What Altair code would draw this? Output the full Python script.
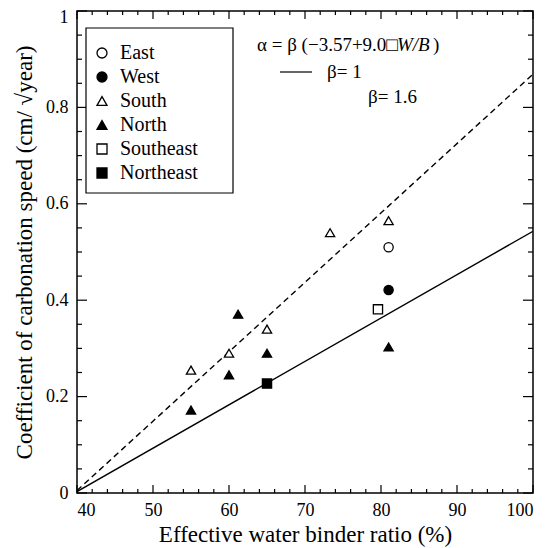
import altair as alt
import pandas as pd

# ---- data ----
directions = ["East", "West", "South", "North", "Southeast", "Northeast"]
pt_dir = ["East", "West",
          "South", "South", "South", "South", "South",
          "North", "North", "North", "North", "North",
          "Southeast", "Northeast"]
pt_x = [81, 81,
        55, 60, 65, 73.3, 81,
        55, 60, 61.2, 65, 81,
        79.6, 65]
pt_y = [0.51, 0.421,
        0.255, 0.29, 0.34, 0.54, 0.565,
        0.172, 0.245, 0.371, 0.29, 0.303,
        0.381, 0.227]

line_x = [40, 100]
line_b1 = [0.003, 0.543]
line_b16 = [0.005, 0.869]

x_major = [40, 50, 60, 70, 80, 90, 100]
x_minor = [42, 44, 46, 48, 52, 54, 56, 58, 62, 64, 66, 68, 72, 74, 76, 78,
           82, 84, 86, 88, 92, 94, 96, 98]
y_major = [0, 0.2, 0.4, 0.6, 0.8, 1.0]
y_minor = [0.05, 0.1, 0.15, 0.25, 0.3, 0.35, 0.45, 0.5, 0.55, 0.65, 0.7,
           0.75, 0.85, 0.9, 0.95]

fill_range = ["white", "black", "white", "black", "white", "black"]
stroke_range = ["black"] * 6
shape_range = ["circle", "circle", "triangle-up", "triangle-up", "square", "square"]

W, H = 456, 482
FONT = "Liberation Serif"

pts = pd.DataFrame({"dir": pt_dir, "x": pt_x, "y": pt_y})
lines = pd.DataFrame({"x": line_x + line_x,
                      "y": line_b1 + line_b16,
                      "beta": ["1"] * 2 + ["1.6"] * 2})

xscale = alt.Scale(domain=[40, 100], nice=False)
yscale = alt.Scale(domain=[0, 1], nice=False)

xax = alt.Axis(values=x_major, title="Effective water binder ratio (%)",
               tickSize=0, labelPadding=8, titlePadding=4, grid=False, domain=False)
yax = alt.Axis(values=y_major, format=".1~f",
               title="Coefficient of carbonation speed (cm/ \u221ayear)",
               tickSize=0, labelPadding=9, titlePadding=9, grid=False, domain=False,
               labelOffset={"condition": {"test": "datum.value == 1", "value": 6}, "value": 0})

base_line = alt.Chart(lines)
solid = base_line.transform_filter(alt.datum.beta == "1").mark_line(
    color="black", strokeWidth=1.4, clip=True).encode(
    x=alt.X("x:Q", scale=xscale, axis=xax),
    y=alt.Y("y:Q", scale=yscale, axis=yax))
dashed = base_line.transform_filter(alt.datum.beta == "1.6").mark_line(
    color="black", strokeWidth=1.4, strokeDash=[6, 4], clip=True).encode(
    x=alt.X("x:Q", scale=xscale), y=alt.Y("y:Q", scale=yscale))

leg = alt.Legend(title=None, orient="none", legendX=15, legendY=32,
                 labelFont=FONT, labelFontSize=20, labelColor="black", symbolSize=100,
                 symbolStrokeWidth=1.3, labelOffset=8, rowPadding=4, padding=0)

points = alt.Chart(pts).mark_point(strokeWidth=1.3, opacity=1, size=85, filled=False).encode(
    x=alt.X("x:Q", scale=xscale),
    y=alt.Y("y:Q", scale=yscale),
    fill=alt.Fill("dir:N", scale=alt.Scale(domain=directions, range=fill_range), legend=leg),
    stroke=alt.Stroke("dir:N", scale=alt.Scale(domain=directions, range=stroke_range), legend=leg),
    shape=alt.Shape("dir:N", scale=alt.Scale(domain=directions, range=shape_range), legend=leg),
)

# ticks pointing inward on all four sides
def xticks(vals, length):
    d = pd.DataFrame({"x": vals})
    b = alt.Chart(d).mark_rule(color="black", strokeWidth=1.2)
    bottom = b.encode(x=alt.X("x:Q", scale=xscale), y=alt.value(H), y2=alt.value(H - length))
    top = b.encode(x=alt.X("x:Q", scale=xscale), y=alt.value(0), y2=alt.value(length))
    return bottom + top

def yticks(vals, length):
    d = pd.DataFrame({"y": vals})
    b = alt.Chart(d).mark_rule(color="black", strokeWidth=1.2)
    left = b.encode(y=alt.Y("y:Q", scale=yscale), x=alt.value(0), x2=alt.value(length))
    right = b.encode(y=alt.Y("y:Q", scale=yscale), x=alt.value(W), x2=alt.value(W - length))
    return left + right

ticks = xticks(x_major, 8) + xticks(x_minor, 4) + yticks(y_major, 10) + yticks(y_minor, 5)

legend_box = alt.Chart(pd.DataFrame({"a": [0]})).mark_rect(
    fill="white", stroke="black", strokeWidth=1.2).encode(
    x=alt.value(9), x2=alt.value(156), y=alt.value(17), y2=alt.value(182))

ann = pd.DataFrame({"a": [0]})
def txt(s, x, y, italic=False):
    kw = dict(text=s, font=FONT, fontSize=19, align="left", baseline="middle", color="black")
    if italic:
        kw["fontStyle"] = "italic"
    return alt.Chart(ann).mark_text(**kw).encode(x=alt.value(x), y=alt.value(y))

t1 = txt("\u03b1 = \u03b2 (\u22123.57+9.0\u25a1", 180, 34)
t2 = txt("W/B", 320, 34, italic=True)
t3 = txt(")", 356, 34)
sample = alt.Chart(ann).mark_rule(color="black", strokeWidth=1.2).encode(
    x=alt.value(203), x2=alt.value(235), y=alt.value(61))
t4 = txt("\u03b2= 1", 250, 61)
t5 = txt("\u03b2= 1.6", 291, 86)

chart = alt.layer(
    solid, dashed, ticks, legend_box, points, t1, t2, t3, sample, t4, t5
).properties(
    width=W, height=H,
    autosize=alt.AutoSizeParams(type="none"),
    padding={"left": 69, "top": 3, "right": 14, "bottom": 55}
).configure(
    background="white"
).configure_view(
    stroke="black", strokeWidth=1.5
).configure_axis(
    labelFont=FONT, labelFontSize=18, labelColor="black",
    titleFont=FONT, titleFontSize=23, titleFontWeight="normal", titleColor="black"
)

chart.save("out.html", embed_options={"renderer": "svg", "actions": False})
